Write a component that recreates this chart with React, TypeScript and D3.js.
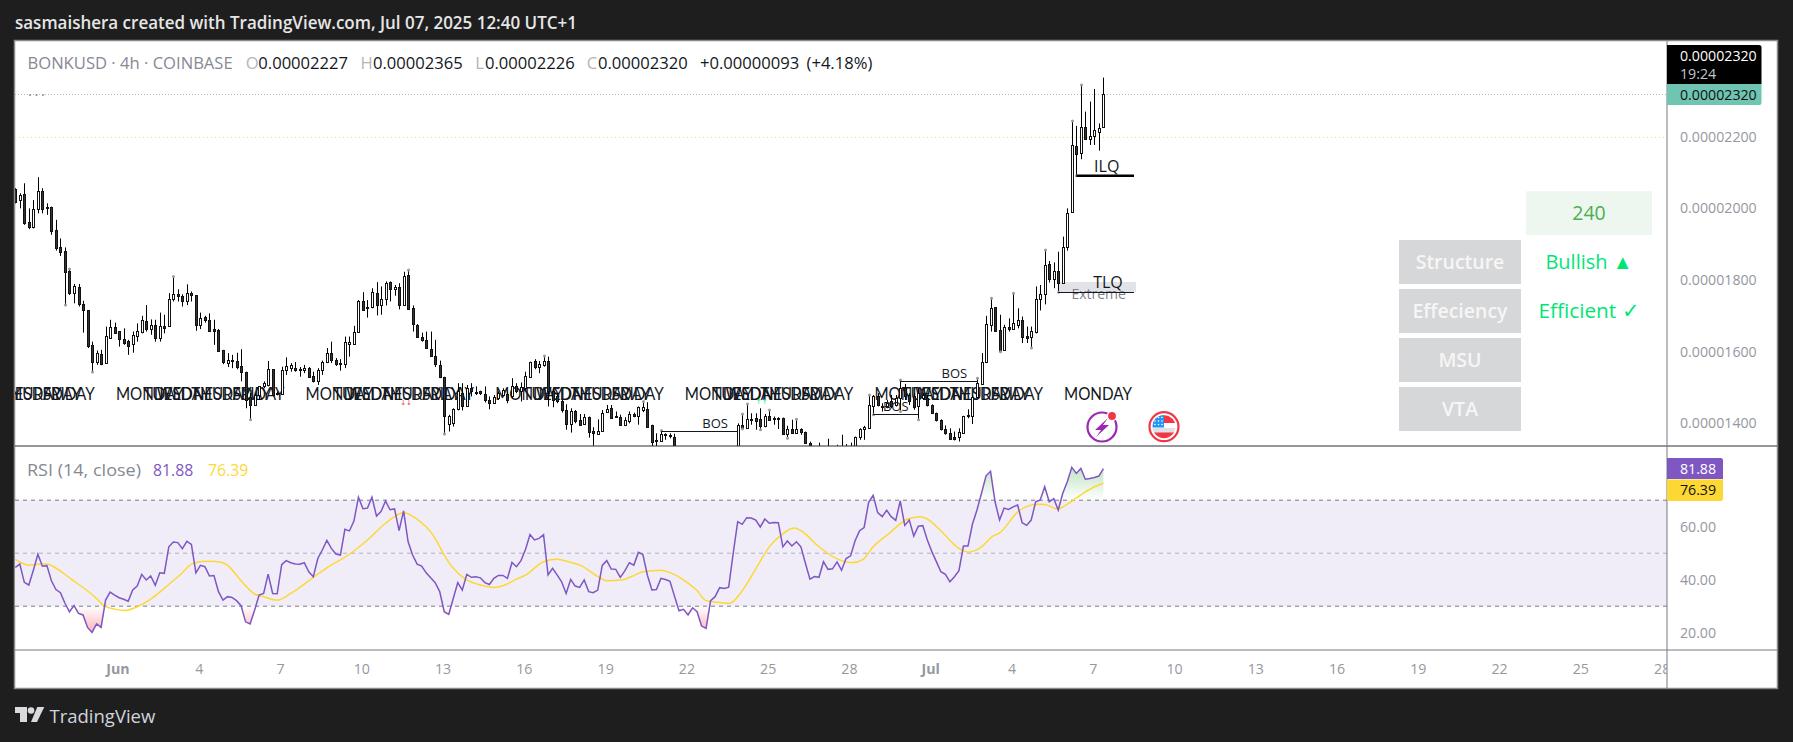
import React from 'react';
import * as d3 from 'd3';

// prices are in units of 1e-8 USD, one entry per 4h candle
const opens = [
  2054,2023,2039,1961,1949,1997,2048,2005,2004,1940,
  1891,1881,1825,1765,1781,1732,1716,1618,1572,1594,
  1567,1639,1668,1657,1635,1630,1621,1645,1656,1685,
  1662,1675,1639,1672,1671,1748,1760,1756,1740,1763,
  1757,1673,1697,1688,1663,1661,1605,1567,1576,1574,
  1559,1544,1473,1452,1478,1503,1507,1551,1484,1482,
  1550,1553,1554,1552,1548,1555,1532,1519,1549,1570,
  1596,1577,1567,1565,1621,1621,1654,1741,1724,1724,
  1763,1729,1746,1794,1774,1780,1731,1814,1721,1675,
  1642,1632,1607,1587,1564,1529,1398,1400,1439,1484,
  1447,1498,1488,1490,1482,1465,1456,1470,1479,1481,
  1475,1504,1491,1498,1530,1574,1556,1563,1574,1489,
  1475,1461,1438,1399,1435,1409,1399,1418,1378,1371,
  1378,1432,1442,1420,1418,1396,1407,1426,1419,1437,
  1439,1394,1353,1351,1371,1368,1363,1333,1326,1318,
  1322,1312,1305,1309,1302,1297,1304,1310,1316,1322,
  1326,1395,1388,1411,1414,1411,1393,1420,1416,1416,
  1414,1371,1384,1372,1384,1375,1346,1326,1315,1310,
  1318,1312,1320,1324,1318,1325,1330,1363,1384,1388,
  1449,1477,1447,1445,1461,1451,1470,1498,1479,1475,
  1447,1470,1470,1451,1428,1410,1384,1374,1363,1362,
  1374,1424,1420,1473,1510,1570,1675,1724,1661,1605,
  1668,1664,1675,1689,1644,1640,1656,1746,1760,1845,
  1802,1825,1793,1893,1991,2174,2154,2226,2193,2202,
  2214,2227,
];
const highs = [
  2056,2042,2070,2000,2023,2087,2056,2014,2005,1968,
  1916,1891,1831,1789,1789,1742,1716,1628,1603,1605,
  1670,1689,1681,1657,1665,1633,1656,1679,1700,1730,
  1690,1689,1709,1703,1763,1810,1774,1760,1788,1768,
  1758,1709,1700,1707,1689,1663,1605,1596,1591,1597,
  1607,1544,1484,1484,1503,1517,1574,1551,1489,1558,
  1584,1568,1571,1557,1563,1557,1544,1554,1575,1610,
  1628,1582,1579,1642,1642,1672,1744,1766,1744,1777,
  1794,1782,1796,1796,1786,1791,1823,1828,1729,1677,
  1653,1656,1656,1633,1575,1530,1424,1442,1512,1512,
  1507,1512,1503,1491,1503,1475,1479,1489,1498,1489,
  1526,1512,1514,1544,1572,1579,1574,1588,1586,1493,
  1484,1465,1453,1442,1437,1426,1426,1419,1389,1411,
  1437,1451,1451,1433,1424,1417,1433,1430,1447,1461,
  1459,1396,1372,1380,1372,1372,1371,1336,1329,1325,
  1326,1316,1312,1313,1306,1308,1314,1320,1326,1330,
  1400,1426,1454,1428,1428,1442,1426,1437,1419,1417,
  1416,1393,1410,1411,1386,1377,1349,1330,1346,1322,
  1357,1325,1340,1368,1342,1346,1363,1386,1393,1479,
  1479,1484,1456,1465,1479,1479,1521,1510,1484,1484,
  1498,1484,1479,1453,1430,1411,1394,1386,1377,1386,
  1421,1439,1479,1526,1596,1700,1749,1724,1703,1675,
  1693,1763,1721,1698,1670,1670,1782,1786,1884,1853,
  1849,1879,1921,2000,2244,2230,2344,2270,2298,2333,
  2237,2365,
];
const lows = [
  2014,2000,1954,1942,1944,1986,1986,1982,1926,1882,
  1867,1730,1758,1735,1726,1653,1610,1543,1563,1562,
  1567,1637,1650,1614,1619,1591,1597,1628,1651,1656,
  1647,1628,1628,1651,1671,1740,1740,1726,1730,1740,
  1658,1663,1681,1655,1619,1603,1565,1557,1554,1551,
  1517,1442,1410,1452,1465,1498,1503,1475,1478,1479,
  1535,1544,1544,1530,1540,1529,1514,1507,1535,1568,
  1568,1560,1547,1554,1586,1621,1654,1715,1695,1721,
  1701,1703,1729,1740,1756,1718,1728,1718,1656,1639,
  1628,1608,1586,1557,1526,1370,1377,1391,1436,1436,
  1447,1475,1479,1479,1458,1439,1454,1465,1475,1456,
  1470,1484,1461,1493,1529,1551,1540,1558,1447,1445,
  1456,1430,1382,1374,1400,1394,1398,1360,1337,1368,
  1376,1430,1415,1416,1393,1393,1400,1417,1396,1431,
  1391,1335,1335,1349,1354,1358,1321,1320,1312,1312,
  1306,1299,1299,1296,1291,1291,1298,1304,1310,1316,
  1320,1384,1386,1396,1382,1382,1389,1408,1396,1384,
  1371,1358,1371,1371,1368,1344,1320,1310,1305,1305,
  1305,1308,1314,1310,1312,1315,1318,1354,1354,1388,
  1424,1447,1433,1442,1442,1447,1433,1465,1451,1438,
  1410,1465,1447,1426,1405,1380,1368,1354,1352,1349,
  1372,1414,1398,1473,1507,1568,1656,1656,1600,1603,
  1656,1661,1665,1624,1624,1610,1651,1715,1732,1793,
  1777,1766,1791,1882,1988,2091,2137,2191,2177,2177,
  2161,2226,
];
const closes = [
  2019,2037,1960,1949,1997,2048,1999,2002,1938,1890,
  1879,1823,1765,1783,1732,1715,1617,1572,1597,1566,
  1643,1668,1653,1634,1625,1617,1647,1657,1689,1662,
  1674,1639,1672,1667,1746,1760,1756,1740,1763,1758,
  1673,1693,1687,1658,1659,1603,1570,1576,1573,1557,
  1543,1464,1452,1478,1503,1512,1551,1480,1481,1549,
  1559,1562,1549,1548,1554,1530,1517,1549,1571,1596,
  1577,1566,1565,1626,1626,1654,1742,1717,1721,1766,
  1729,1746,1792,1774,1781,1731,1811,1720,1676,1642,
  1633,1610,1589,1565,1530,1419,1419,1440,1489,1447,
  1498,1489,1484,1484,1464,1456,1473,1484,1493,1465,
  1504,1491,1500,1532,1570,1558,1565,1574,1489,1465,
  1461,1437,1399,1435,1407,1396,1418,1376,1374,1378,
  1429,1440,1416,1417,1396,1410,1426,1419,1445,1445,
  1391,1349,1350,1370,1366,1364,1335,1326,1318,1322,
  1312,1305,1309,1302,1297,1304,1310,1316,1322,1326,
  1396,1386,1411,1410,1407,1393,1419,1410,1414,1414,
  1371,1384,1374,1384,1375,1346,1326,1315,1310,1318,
  1312,1320,1324,1318,1325,1322,1363,1384,1389,1451,
  1477,1450,1445,1458,1447,1470,1498,1475,1461,1445,
  1484,1479,1450,1428,1408,1384,1374,1356,1357,1375,
  1420,1421,1473,1512,1570,1677,1721,1659,1602,1668,
  1664,1679,1689,1642,1637,1659,1746,1760,1842,1802,
  1825,1793,1893,1988,2176,2153,2228,2193,2202,2219,
  2225,2320,
];

// swing points marked with a grey dot
const pivotHighs = [12,35,87,117,139,143,161,162,167,173,189,196,213,216,221,228,234,236];
const pivotLows = [11,17,52,95,161,165,171,190,196,200,218,225,231,235];

const rsiValues = [
  44.6,45.9,39.0,38.0,43.6,49.6,45.1,45.3,39.6,36.3,
  35.1,31.1,27.9,30.2,27.3,26.7,22.0,20.1,23.3,22.0,
  32.3,35.3,34.2,33.2,32.6,31.9,36.1,37.6,42.0,39.9,
  41.4,37.9,42.6,42.4,52.4,54.2,54.0,51.7,54.5,53.3,
  42.6,45.4,44.9,41.4,41.6,35.5,32.3,33.6,33.3,32.1,
  30.2,24.1,23.3,28.5,34.2,34.8,42.1,34.8,34.7,45.7,
  47.2,46.4,45.9,45.8,46.4,43.0,41.1,48.0,51.2,54.8,
  51.8,49.7,49.3,59.0,58.4,62.1,71.1,66.8,67.0,71.1,
  64.0,65.7,69.7,66.4,66.7,58.5,66.0,54.3,49.3,45.9,
  45.1,42.6,40.7,38.9,35.5,27.9,26.9,32.9,38.9,36.1,
  42.0,40.9,41.1,40.7,38.9,38.2,40.5,41.6,41.6,40.5,
  46.5,44.9,47.2,51.4,57.0,55.0,55.6,57.0,41.8,44.3,
  41.8,39.2,34.8,40.1,37.6,37.1,39.9,35.5,35.1,36.1,
  45.4,47.2,44.0,43.9,40.9,43.3,46.4,45.5,50.3,49.5,
  41.7,36.1,36.3,40.5,40.1,39.4,33.8,28.3,28.8,26.7,
  29.4,27.9,22.5,21.6,32.1,33.6,37.0,36.7,37.2,49.9,
  61.9,60.9,63.4,63.3,62.5,59.9,62.9,61.3,61.6,61.5,
  52.4,54.6,52.7,54.3,52.4,46.2,40.2,41.2,40.9,46.8,
  43.9,44.1,46.7,43.6,48.0,49.0,54.7,58.5,59.7,69.2,
  71.8,65.3,63.8,66.2,63.8,62.4,69.7,60.5,62.5,56.5,
  60.2,60.4,55.0,50.6,46.8,43.0,42.0,39.2,41.1,43.4,
  52.7,52.7,61.0,66.3,72.6,79.2,80.9,69.4,62.5,67.0,
  66.5,67.5,68.2,61.5,60.5,62.5,69.4,70.1,75.1,69.4,
  70.6,66.3,72.6,77.0,82.4,80.1,82.0,77.9,78.2,78.6,
  79.1,81.88,
];

// the RSI moving average is read as vertices, candle index + value
const rsiMaIndex = [0,3,5,7,8.5,12,18,19.5,22,24.3,27,30,34,37,39,42,44.5,47,49,51,53,55,58,61,63,66,69,74,78,82,86,88.4,93,95,97,100,103,106,108,111,113,117,120,122.5,125.5,129.3,131,134.4,136.5,139,142.9,145.4,148.4,150.9,153,156,158.3,160.3,164.5,167,169.6,172.5,174.7,177.6,183,185.3,187.8,189.9,193.7,197.5,200.5,201.8,205.2,209,211.1,214,216.6,217.9,222.1,226.4,228,230.8,233,236.5,238.6,241];
const rsiMaValues = [47.7,45.5,45.8,45.9,44.9,40.7,32.9,30.4,28.9,28.4,29.8,32.7,38.2,42.6,45.9,47.0,46.9,45.5,41.7,37.7,34.6,33.6,32.3,34.8,37.1,40.9,44.5,49.6,55.0,61.3,65.3,63.5,55.6,49.3,44.3,39.9,38.0,37.1,37.7,40.2,41.7,46.8,47.7,46.8,45.1,40.9,39.6,39.9,41.2,43.0,43.6,42.4,39.5,36.1,32.1,31.4,31.1,34.2,45.5,52.4,56.8,59.5,57.7,53.0,47.2,46.4,47.7,52.2,57.7,62.8,63.8,63.1,58.1,51.8,50.4,52.4,56.5,57.5,65.7,68.5,68.4,66.7,68.5,72.6,74.7,76.39];

const priceTicks = [1400,1600,1800,2000,2200];
const rsiTicks = [60,40,20];
const rsiBands = [70,50,30];
const timeLabels = ["Jun","4","7","10","13","16","19","22","25","28","Jul","4","7","10","13","16","19","22","25","28"];
const weekDays = ["MONDAY","TUESDAY","WEDNESDAY","THURSDAY","FRIDAY"];
const mondayIndex = [-12.2,29.8,71.8,113.8,155.8,197.8,239.8];
const lastIndex = 241;

const bosLevels = [
  {from:143, to:160, price:1378, labelAt:155},
  {from:190, to:200, price:1426, labelAt:195},
  {from:196, to:213, price:1518, labelAt:208},
];

const tableRows = ["Structure","Effeciency","MSU","VTA"];
const tableValues = [
  {text:"Bullish ▲", size:20},
  {text:"Efficient ✓", size:20.8},
];

const width = 1793;
const height = 742;
const frameLeft = 15;
const frameTop = 41;
const frameRight = 1777;
const frameBottom = 688;
const axisX = 1667;
const paneBottom = 446;
const rsiBottom = 650;
const font = "'Open Sans', sans-serif";
const greyText = "#9598a1";

const x = d3.scaleLinear().domain([0, lastIndex]).range([15.3, 15.3 + 4.515 * lastIndex]);
const y = d3.scaleLinear().domain([1400, 2200]).range([423.3, 136.7]);
const ry = d3.scaleLinear().domain([20, 60]).range([632.7, 526.7]);
const crisp = (v:number) => Math.round(v) + 0.5;

const rsiLine = d3.line<number>().x((_, i) => x(i)).y(d => ry(d));
const rsiArea = (base:number) => d3.area<number>().x((_, i) => x(i)).y0(ry(base)).y1(d => ry(d));
const maLine = d3.line<number>().x((_, i) => x(rsiMaIndex[i])).y(d => ry(d)).curve(d3.curveMonotoneX);

const Candle = ({i}:{i:number}) => {
  const o = opens[i];
  const c = closes[i];
  const cx = crisp(x(i));
  const top = Math.round(y(Math.max(o, c))) + 0.5;
  const bottom = Math.round(y(Math.min(o, c))) + 0.5;
  return (
    <g>
      <line x1={cx} x2={cx} y1={y(highs[i])} y2={y(lows[i])} stroke="#000" strokeWidth={1}/>
      <rect x={cx-1} width={2} y={top} height={Math.max(bottom-top, 1)} fill={c >= o ? "#fff" : "#333"} stroke="#111" strokeWidth={1} shapeRendering="crispEdges"/>
    </g>
  );
};

const App = () => (
  <svg width={width} height={height} style={{position:"absolute", left:0, top:0, background:"#1e1e1e"}} fontFamily={font}>
    <defs>
      <clipPath id="plot"><rect x={frameLeft} y={frameTop} width={axisX-frameLeft} height={paneBottom-frameTop}/></clipPath>
      <clipPath id="rsi"><rect x={frameLeft} y={paneBottom} width={axisX-frameLeft} height={rsiBottom-paneBottom}/></clipPath>
      <clipPath id="above"><rect x={frameLeft} y={paneBottom} width={axisX-frameLeft} height={ry(70)-paneBottom}/></clipPath>
      <clipPath id="below"><rect x={frameLeft} y={ry(30)} width={axisX-frameLeft} height={rsiBottom-ry(30)}/></clipPath>
      <clipPath id="time"><rect x={frameLeft} y={rsiBottom} width={axisX-frameLeft} height={frameBottom-rsiBottom}/></clipPath>
      <clipPath id="flag"><circle cx={1164} cy={426.7} r={11.5}/></clipPath>
      <linearGradient id="over" gradientUnits="userSpaceOnUse" x1={0} x2={0} y1={ry(85)} y2={ry(70)}>
        <stop offset="0" stopColor="#4caf50" stopOpacity={0.42}/>
        <stop offset="1" stopColor="#4caf50" stopOpacity={0}/>
      </linearGradient>
      <linearGradient id="under" gradientUnits="userSpaceOnUse" x1={0} x2={0} y1={ry(30)} y2={ry(20)}>
        <stop offset="0" stopColor="#f23645" stopOpacity={0}/>
        <stop offset="1" stopColor="#f23645" stopOpacity={0.38}/>
      </linearGradient>
    </defs>

    <text x={15} y={29} fill="#e6e6e6" fontSize={17.4} fontWeight={600} textLength={562} lengthAdjust="spacingAndGlyphs">sasmaishera created with TradingView.com, Jul 07, 2025 12:40 UTC+1</text>
    <rect x={frameLeft-0.5} y={frameTop-0.5} width={frameRight-frameLeft+1} height={frameBottom-frameTop+1} fill="#fff" stroke="#8a8a8a" strokeWidth={1.5}/>

    <line x1={frameLeft} x2={axisX} y1={crisp(y(2320))} y2={crisp(y(2320))} stroke="#b2b5be" strokeDasharray="1 2"/>
    <line x1={frameLeft} x2={axisX} y1={crisp(y(2200))} y2={crisp(y(2200))} stroke="#f7e11e" strokeDasharray="1 3"/>
    <text x={28} y={96} fill="#868993" fontSize={15} letterSpacing={2.6}>...</text>

    <g fontSize={16.6}>
      <text x={27.5} y={68.5} fill="#868993">BONKUSD · 4h · COINBASE</text>
      <text x={245.7} y={68.5} fill="#b2b5be">O</text>
      <text x={258.3} y={68.5} fill="#131722">0.00002227</text>
      <text x={360.5} y={68.5} fill="#b2b5be">H</text>
      <text x={373} y={68.5} fill="#131722">0.00002365</text>
      <text x={475.3} y={68.5} fill="#b2b5be">L</text>
      <text x={485} y={68.5} fill="#131722">0.00002226</text>
      <text x={586.7} y={68.5} fill="#b2b5be">C</text>
      <text x={598} y={68.5} fill="#131722">0.00002320</text>
      <text x={700} y={68.5} fill="#131722">+0.00000093</text>
      <text x={806.5} y={68.5} fill="#131722">(+4.18%)</text>
    </g>

    <g clipPath="url(#plot)">
      {weekDays.map((day, d) => mondayIndex.filter(m => m + d*6 < lastIndex).map(m => (
        <text key={`${day}${m}`} transform={`translate(${x(m + d*6)},400) scale(0.87,1)`} textAnchor="middle" fontFamily="Lato, sans-serif" fontSize={17.5} fill="#131722">{day}</text>
      )))}

      <rect x={x(231)} y={282} width={x(248.2)-x(231)} height={10} fill="#e2e3e6"/>
      <text x={1098.7} y={299} textAnchor="middle" fontSize={14} fill="#7d7f8a">Extreme</text>

      {opens.map((_, i) => <Candle key={i} i={i}/>)}

      {pivotHighs.map(i => <circle key={`h${i}`} cx={crisp(x(i))} cy={y(highs[i])} r={1.5} fill="#9a9a9a"/>)}
      {pivotLows.map(i => <circle key={`l${i}`} cx={crisp(x(i))} cy={y(lows[i])} r={1.5} fill="#9a9a9a"/>)}

      {bosLevels.map(b => (
        <g key={b.from}>
          <line x1={x(b.from)} x2={x(b.to)} y1={crisp(y(b.price))} y2={crisp(y(b.price))} stroke="#131722" strokeWidth={1}/>
          <text x={x(b.labelAt)} y={y(b.price)-3} textAnchor="middle" fontSize={13} fill="#131722">BOS</text>
        </g>
      ))}

      <line x1={x(235)} x2={1134} y1={y(2091)} y2={y(2091)} stroke="#000" strokeWidth={2.6}/>
      <text x={1106.7} y={172} textAnchor="middle" fontSize={16} fill="#131722">ILQ</text>
      <line x1={x(231)} x2={1134} y1={crisp(y(1767))} y2={crisp(y(1767))} stroke="#131722" strokeWidth={1}/>
      <text x={1108} y={288} textAnchor="middle" fontSize={16} fill="#131722">TLQ</text>

      <text x={406} y={405} textAnchor="middle" fontFamily="DejaVu Sans" fontSize={7} fill="#f23645">↓↓</text>
      <text x={761.7} y={404} textAnchor="middle" fontFamily="DejaVu Sans" fontSize={7} fill="#00e676">↑↑</text>

      <g>
        <circle cx={1102} cy={427} r={14.5} fill="#fff" stroke="#9c27b0" strokeWidth={2.2}/>
        <path d="M1108 418 L1095 430 L1101 430 L1096 437 L1109 425 L1103 425 Z" fill="#9c27b0"/>
        <circle cx={1112} cy={416} r={4.6} fill="#f23645" stroke="#fff" strokeWidth={1.4}/>
        <circle cx={1164} cy={426.7} r={14.5} fill="#fff" stroke="#f23645" strokeWidth={2.2}/>
        <g clipPath="url(#flag)">
          <rect x={1150} y={415} width={30} height={8} fill="#f23645"/>
          <rect x={1150} y={423} width={30} height={5} fill="#fff"/>
          <rect x={1150} y={428} width={30} height={5} fill="#dfe1e6"/>
          <rect x={1150} y={432.5} width={30} height={8} fill="#f23645"/>
          <rect x={1150} y={414} width={14} height={13.5} fill="#2196f3"/>
          {[0,1,2].flatMap(r => [0,1,2].map(k => <circle key={`${r}${k}`} cx={1155+k*3.5} cy={417.5+r*3.5} r={0.8} fill="#fff"/>))}
        </g>
      </g>
    </g>

    <rect x={1526} y={191.3} width={126} height={43.7} fill="#edf6ef"/>
    <text x={1589} y={220} textAnchor="middle" fontSize={19.5} fill="#4caf50">240</text>
    {tableRows.map((row, i) => (
      <g key={row}>
        <rect x={1399} y={240+i*49} width={122} height={44} fill="#d6d7d9"/>
        <text x={1460} y={269+i*49} textAnchor="middle" fontSize={19.5} fontWeight={600} fill="#f6f6f6">{row}</text>
      </g>
    ))}
    {tableValues.map((v, i) => (
      <text key={v.text} x={1589} y={269+i*49} textAnchor="middle" fontSize={v.size} fontWeight={500} fill="#00e676">{v.text}</text>
    ))}

    <rect x={frameLeft} y={ry(70)} width={axisX-frameLeft} height={ry(30)-ry(70)} fill="#f0edf8"/>
    {rsiBands.map(v => (
      <line key={v} x1={frameLeft} x2={axisX} y1={ry(v)} y2={ry(v)} stroke="#787b86" strokeOpacity={v===50 ? 0.55 : 1} strokeDasharray="4 4"/>
    ))}
    <g clipPath="url(#rsi)">
      <path d={rsiArea(70)(rsiValues) ?? ""} fill="url(#over)" clipPath="url(#above)"/>
      <path d={rsiArea(30)(rsiValues) ?? ""} fill="url(#under)" clipPath="url(#below)"/>
      <path d={maLine(rsiMaValues) ?? ""} fill="none" stroke="#fdd835" strokeWidth={1.5}/>
      <path d={rsiLine(rsiValues) ?? ""} fill="none" stroke="#7e57c2" strokeWidth={1.5}/>
    </g>

    <g fontSize={15.8}>
      <text x={27} y={475.5} fill="#868993" textLength={114} lengthAdjust="spacingAndGlyphs">RSI (14, close)</text>
      <text x={153} y={475.5} fill="#7e57c2">81.88</text>
      <text x={208} y={475.5} fill="#fdd835">76.39</text>
    </g>

    <line x1={frameLeft} x2={frameRight} y1={paneBottom} y2={paneBottom} stroke="#2a2e39"/>
    <line x1={frameLeft} x2={frameRight} y1={rsiBottom} y2={rsiBottom} stroke="#787b86"/>
    <line x1={axisX} x2={axisX} y1={frameTop} y2={frameBottom} stroke="#787b86"/>

    <g fontSize={14.2} fill={greyText}>
      {priceTicks.map(p => (
        <text key={p} x={1680} y={y(p)+5}>{`0.0000${p}`}</text>
      ))}
      {rsiTicks.map(v => (
        <text key={v} x={1698} y={ry(v)+5} textAnchor="middle">{v.toFixed(2)}</text>
      ))}
    </g>

    <g clipPath="url(#time)" fontSize={14.2} fill={greyText}>
      {timeLabels.map((t, k) => (
        <text key={k} x={x(22.75 + k*18)} y={674} textAnchor="middle" fontWeight={t==="Jun"||t==="Jul" ? 700 : 400}>{t}</text>
      ))}
    </g>

    <path d="M1667 45 H1759 a2.5 2.5 0 0 1 2.5 2.5 V84 H1667 Z" fill="#000"/>
    <path d="M1667 84 H1761.5 V102.5 a2.5 2.5 0 0 1 -2.5 2.5 H1667 Z" fill="#70c4b2"/>
    <text x={1680} y={60.5} fontSize={14.2} fill="#fff">0.00002320</text>
    <text x={1680} y={78.5} fontSize={14.2} fill="#c4c6cc">19:24</text>
    <text x={1680} y={99.5} fontSize={14.2} fill="#111">0.00002320</text>

    <path d="M1667 458 H1720.5 a2.5 2.5 0 0 1 2.5 2.5 V479 H1667 Z" fill="#7e57c2"/>
    <path d="M1667 479.5 H1723 V498.5 a2.5 2.5 0 0 1 -2.5 2.5 H1667 Z" fill="#fdd835"/>
    <text x={1698} y={473.5} textAnchor="middle" fontSize={14.2} fill="#fff">81.88</text>
    <text x={1698} y={495} textAnchor="middle" fontSize={14.2} fill="#111">76.39</text>

    <g fill="#d9dadd">
      <path d="M15 707 H27 V722 H20 V713 H15 Z"/>
      <circle cx={31} cy={710.5} r={3.3}/>
      <path d="M37.3 707 H44.3 L37 722 H31 Z"/>
    </g>
    <text x={49.5} y={722.5} fontSize={18.5} fill="#d1d4dc">TradingView</text>
  </svg>
);

export default App;
